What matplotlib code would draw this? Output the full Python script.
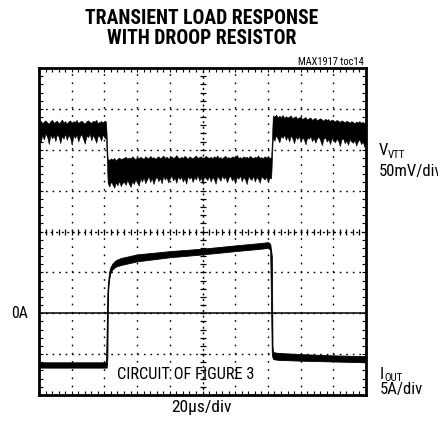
import numpy as np
import matplotlib
matplotlib.use("Agg")
import matplotlib.pyplot as plt
from matplotlib import font_manager as fm

# scope traces, in screen divisions (10 x 8 grid, 0A line at div 2)
# VVTT noise envelope, one sample every 0.05 div, values in 1/100 div
vtt_dt = 0.05
vtt_top_c = [
    668, 671, 665, 669, 672, 667, 664, 670, 673, 666, 669, 671, 665, 668, 674, 667,
    670, 664, 669, 672, 666, 670, 668, 673, 665, 669, 671, 667, 664, 670, 672, 668,
    666, 671, 669, 673, 665, 668, 670, 667, 671, 669,
    578, 575, 579, 576, 580, 574, 578, 581, 577, 579, 580, 583, 578, 581, 579, 584,
    580, 577, 582, 579, 583, 580, 578, 584, 581, 579, 585, 580, 582, 578, 581, 584,
    579, 582, 586, 580, 583, 579, 581, 584, 580, 582, 587, 581, 579, 583, 580, 585,
    582, 578, 584, 581, 579, 583, 586, 580, 582, 584, 579, 581, 585, 582, 580, 583,
    579, 584, 581, 586, 580, 582, 578, 583, 585, 580, 582, 579, 584, 581, 583, 587,
    580, 582, 579, 584, 581, 583, 580, 585, 582, 579, 583, 581, 586, 580, 582, 579,
    584, 581, 583, 580, 582,
    684, 681, 686, 679, 683, 680, 685, 678, 682, 679, 681, 684, 677, 680, 682, 676,
    679, 681, 675, 678, 680, 674, 677, 679, 673, 676, 678, 672, 675, 677, 674, 671,
    676, 673, 675, 670, 674, 672, 669, 673, 671, 668, 672, 670, 667, 671, 669, 666,
    670, 668, 665, 669, 667, 670, 666, 668, 665, 669]
vtt_bot_c = [
    633, 618, 636, 625, 640, 631, 614, 637, 628, 635, 621, 638, 632, 616, 634, 627,
    639, 624, 636, 630, 612, 635, 629, 637, 620, 633, 638, 626, 615, 634, 631, 639,
    623, 636, 628, 617, 635, 632, 622, 637, 630, 626,
    518, 510, 522, 515, 507, 520, 513, 524, 511, 519, 521, 514, 526, 517, 509, 523,
    516, 528, 520, 512, 530, 522, 533, 518, 527, 535, 521, 531, 516, 529, 534, 523,
    531, 518, 536, 527, 533, 520, 530, 537, 525, 532, 519, 535, 528, 534, 522, 531,
    517, 536, 529, 534, 521, 533, 527, 538, 524, 532, 519, 535, 530, 526, 536, 522,
    533, 528, 517, 535, 531, 524, 537, 529, 534, 520, 532, 536, 525, 531, 518, 534,
    529, 537, 523, 533, 528, 516, 535, 530, 526, 536, 522, 533, 529, 519, 535, 531,
    527, 534, 521, 532, 530,
    630, 622, 636, 627, 618, 634, 629, 637, 624, 633, 620, 635, 628, 616, 632, 626,
    634, 619, 631, 625, 613, 630, 627, 633, 621, 629, 617, 628, 632, 623, 611, 627,
    630, 620, 626, 614, 629, 624, 618, 627, 622, 609, 625, 628, 616, 623, 612, 626,
    620, 617, 624, 610, 621, 625, 614, 620, 607, 622]

# IOUT trace envelope (div)
i_t = [0.0, 1.0, 2.05, 2.07, 2.09, 2.11, 2.14, 2.18, 2.25, 2.35, 2.5, 3.0,
       4.0, 5.0, 6.0, 6.8, 7.0, 7.07, 7.12, 7.14, 7.16, 7.3, 8.0, 9.0, 10.0]
i_top = [0.80, 0.80, 0.80, 1.60, 2.50, 2.75, 2.98, 3.12, 3.22, 3.30, 3.35, 3.44,
         3.52, 3.58, 3.66, 3.72, 3.74, 3.70, 3.40, 1.20, 1.05, 1.03, 1.00, 0.97, 0.95]
i_bot = [0.67, 0.67, 0.67, 0.67, 0.90, 2.50, 2.80, 2.98, 3.08, 3.14, 3.18, 3.27,
         3.37, 3.44, 3.52, 3.58, 3.60, 3.55, 1.00, 0.92, 0.88, 0.86, 0.84, 0.82, 0.80]

zero_amp_div = 2
n_xdiv, n_ydiv = 10, 8

W, H = 438, 427

# look for a condensed sans face, else fall back to Liberation Sans
_names = {f.name for f in fm.fontManager.ttflist}
FONT = dict(family=["Liberation Sans", "DejaVu Sans"])
SCALE = 1.0
for cand in ["Liberation Sans Narrow", "Roboto Condensed", "Open Sans Condensed",
             "Noto Sans Condensed", "DejaVu Sans Condensed", "Arial Narrow"]:
    if cand in _names:
        FONT = dict(family=[cand, "DejaVu Sans"])
        SCALE = 1.2
        break


def fpos(x, y):
    # pixel position -> figure fraction
    return x / W, 1 - y / H


def label(x, y, s, size, **kw):
    kw.setdefault("ha", "left")
    kw.setdefault("va", "center")
    fig.text(*fpos(x, y), s, fontsize=size * SCALE, **FONT, **kw)


fig = plt.figure(figsize=(W / 100, H / 100), dpi=100)
ax = fig.add_axes([39 / W, 1 - 396 / H, 327 / W, 327 / H])
ax.set_xlim(0, n_xdiv)
ax.set_ylim(0, n_ydiv)

# graticule
for gx in range(1, n_xdiv):
    if gx == n_xdiv // 2:
        continue
    ax.plot([gx, gx], [0, n_ydiv], color="black", lw=1.0, dashes=[1.2, 4.7], zorder=1)
for gy in range(1, n_ydiv):
    if gy == n_ydiv // 2:
        continue
    ax.plot([0, n_xdiv], [gy, gy], color="black", lw=1.0, dashes=[1.2, 3.5], zorder=1)

# centre cross with small ticks every 0.2 div
ax.plot([5, 5], [0, n_ydiv], color="black", lw=1.0, dashes=[1.5, 2.5], zorder=1)
ax.plot([0, n_xdiv], [4, 4], color="black", lw=1.0, dashes=[1.5, 2.5], zorder=1)
minor_x = np.arange(0, n_xdiv + 0.01, 0.2)
minor_y = np.arange(0, n_ydiv + 0.01, 0.2)
ax.plot(minor_x, np.full_like(minor_x, 4), ls="none", marker="|", ms=5, mew=0.9,
        color="black", zorder=1)
ax.plot(np.full_like(minor_y, 5), minor_y, ls="none", marker="_", ms=5, mew=0.9,
        color="black", zorder=1)

# 0A reference line
ax.axhline(zero_amp_div, color="black", lw=1.1, zorder=2)

# traces
vtt_t = np.arange(len(vtt_top_c)) * vtt_dt
ax.fill_between(vtt_t, np.array(vtt_bot_c) / 100, np.array(vtt_top_c) / 100,
                color="black", lw=0.4, zorder=3)
ax.fill_between(i_t, i_bot, i_top, color="black", lw=0.6, zorder=3)

# border and inner ticks
ax.set_xticks(minor_x)
ax.set_yticks(minor_y)
ax.tick_params(direction="in", length=3, width=0.8, top=True, right=True,
               labelbottom=False, labelleft=False)
for s in ax.spines.values():
    s.set_linewidth(2.0)

# text
label(202, 19, "TRANSIENT LOAD RESPONSE", 11.8, weight="bold", ha="center")
label(202, 39, "WITH DROOP RESISTOR", 11.8, weight="bold", ha="center")
label(364, 62, "MAX1917 toc14", 6.2, ha="right")

label(379, 151, "V", 10)
label(388, 155, "VTT", 6.5)
label(379, 172, "50mV/div", 10)

label(380, 375, "I", 10)
label(384, 378, "OUT", 6.5)
label(380, 390, "5A/div", 10)

label(20, 313, "0A", 9.5, ha="center")
label(186, 375, "CIRCUIT OF FIGURE 3", 9.8, ha="center")
label(202, 408, "20\u00b5s/div", 10.5, ha="center")

fig.savefig("out.png", dpi=100)
